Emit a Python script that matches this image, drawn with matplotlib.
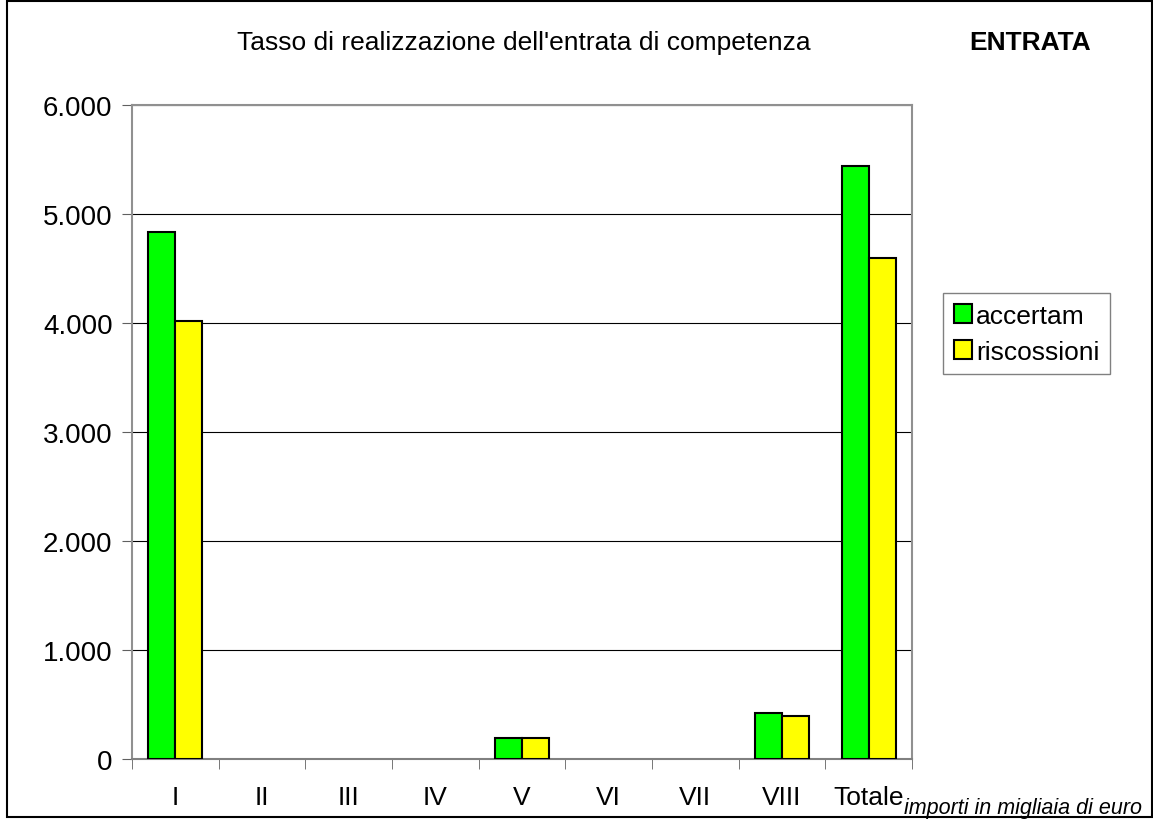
import matplotlib.pyplot as plt
import numpy as np
from matplotlib.patches import Rectangle

plt.rcParams['font.family'] = ['Liberation Sans', 'DejaVu Sans']

categorie = ['I', 'II', 'III', 'IV', 'V', 'VI', 'VII', 'VIII', 'Totale']
accertam = [4835, 0, 0, 0, 195, 0, 0, 420, 5440]
riscossioni = [4018, 0, 0, 0, 190, 0, 0, 395, 4596]

fig = plt.figure(figsize=(11.53, 8.29), dpi=100)
ax = fig.add_axes([0.1145, 0.0832, 0.6765, 0.7888])

x = np.arange(len(categorie))
w = 0.31
# zero values: no outline, like the original
lw_a = [1.5 if v else 0 for v in accertam]
lw_r = [1.5 if v else 0 for v in riscossioni]
ax.bar(x - w / 2, accertam, w, color='#00ff00', edgecolor='black', linewidth=lw_a,
       label='accertam', zorder=3)
ax.bar(x + w / 2, riscossioni, w, color='#ffff00', edgecolor='black', linewidth=lw_r,
       label='riscossioni', zorder=3)

ax.set_xlim(-0.5, len(categorie) - 0.5)
ax.set_ylim(0, 6000)
ax.set_yticks(range(0, 6001, 1000))
ax.set_yticklabels(['0', '1.000', '2.000', '3.000', '4.000', '5.000', '6.000'], fontsize=20)
ax.yaxis.grid(True, color='black', linewidth=0.8, zorder=0)
ax.set_axisbelow(True)

ax.set_xticks(x)
ax.set_xticklabels(categorie, fontsize=19)
ax.set_xticks(np.arange(-0.5, len(categorie), 1), minor=True)
ax.tick_params(axis='x', which='major', length=0, pad=19)
ax.tick_params(axis='x', which='minor', length=7, color='#606060', direction='out')
ax.tick_params(axis='y', length=7, color='#606060', direction='out', pad=7)

for s in ['top', 'right', 'left']:
    ax.spines[s].set_color('#909090')
    ax.spines[s].set_linewidth(1.5)
ax.spines['bottom'].set_color('#808080')
ax.spines['bottom'].set_linewidth(1.5)

leg = ax.legend(loc='upper left', bbox_to_anchor=(1.04, 0.7125), fontsize=19,
                frameon=True, fancybox=False, edgecolor='#606060', borderpad=0.4,
                handlelength=0.7, handleheight=0.7, handletextpad=0.15, labelspacing=0.45,
                borderaxespad=0)
leg.get_frame().set_linewidth(1.0)
for h in leg.legend_handles:
    h.set_linewidth(1.5)

fig.text(0.454, 0.948, "Tasso di realizzazione dell'entrata di competenza",
         ha='center', va='center', fontsize=19)
fig.text(0.893, 0.948, 'ENTRATA', ha='center', va='center', fontsize=19, fontweight='bold')
fig.text(0.887, 0.025, 'importi in migliaia di euro', ha='center', va='center',
         fontsize=15.5, style='italic')

fig.patches.append(Rectangle((0.006, 0.013), 0.993, 0.984, transform=fig.transFigure,
                             fill=False, edgecolor='black', linewidth=1.5))

fig.savefig('out.png', dpi=100)
